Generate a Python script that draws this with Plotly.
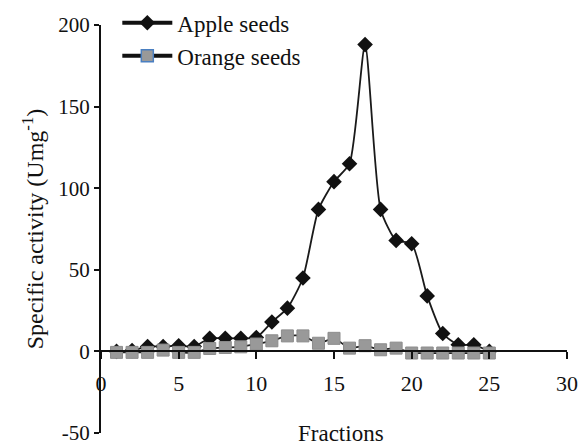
import plotly.graph_objects as go

fractions = list(range(1, 26))
apple = [0, 0.5, 3, 3, 3.5, 3, 8, 8, 8, 8.5, 18, 26.5, 45, 87, 104, 115, 188, 87, 68, 66, 34, 11, 4, 4, 0]
orange = [-0.6, -0.6, -0.6, 0.8, -0.6, -0.6, 1.8, 2.4, 2.8, 4.5, 6.5, 9.5, 9.5, 5, 8, 2, 3.5, 1, 2, -1, -1, -1, -1, -1, -1]

x_ticks = [0, 5, 10, 15, 20, 25, 30]
y_ticks = [-50, 0, 50, 100, 150, 200]

FONT = "Liberation Serif, Times New Roman, serif"

fig = go.Figure()
# plotted series (legend handled by separate legend-only entries)
fig.add_trace(go.Scatter(
    x=fractions, y=apple, name="Apple seeds", mode="lines+markers", showlegend=False,
    line=dict(color="#1a1a1a", width=1.8, shape="spline", smoothing=0.6),
    marker=dict(symbol="diamond", size=12, color="#111111"),
))
fig.add_trace(go.Scatter(
    x=fractions, y=orange, name="Orange seeds", mode="lines+markers", showlegend=False,
    line=dict(color="#222222", width=1.8, shape="spline", smoothing=0.6),
    marker=dict(symbol="square", size=12, color="#999999",
                line=dict(color="#8c8c8c", width=1)),
))
# legend entries
fig.add_trace(go.Scatter(
    x=[None], y=[None], name="Apple seeds", mode="lines+markers",
    line=dict(color="#111111", width=4),
    marker=dict(symbol="diamond", size=12, color="#111111"),
))
fig.add_trace(go.Scatter(
    x=[None], y=[None], name="Orange seeds", mode="lines+markers",
    line=dict(color="#111111", width=4),
    marker=dict(symbol="square", size=12, color="#999999",
                line=dict(color="#4a7fc1", width=1.5)),
))

fig.update_layout(
    width=587, height=447,
    margin=dict(l=101, r=20, t=25, b=14, autoexpand=False),
    paper_bgcolor="white", plot_bgcolor="white",
    font=dict(family=FONT, size=21, color="#111111"),
    showlegend=True,
    legend=dict(x=0.035, y=1.058, xanchor="left", yanchor="top",
                bgcolor="rgba(0,0,0,0)", font=dict(family=FONT, size=23),
                tracegroupgap=0, itemwidth=50),
    xaxis=dict(
        range=[0, 30], tickvals=x_ticks, ticktext=[str(v) for v in x_ticks],
        showgrid=False, zeroline=False, showline=True, linecolor="#111111", linewidth=2,
        ticks="outside", ticklen=7, tickwidth=1.5, tickcolor="#111111",
        anchor="free", position=0.2, ticklabelstandoff=5,
        tickfont=dict(family=FONT, size=22),
    ),
    yaxis=dict(
        range=[-50, 200], tickvals=y_ticks, ticktext=[str(v) for v in y_ticks],
        showgrid=False, zeroline=False, showline=True, linecolor="#111111", linewidth=2,
        ticks="outside", ticklen=5, tickwidth=1.5, tickcolor="#111111",
        ticklabeloverflow="allow",
        tickfont=dict(family=FONT, size=21),
        title=dict(text="Specific activity (Umg<sup>-1</sup>)", font=dict(family=FONT, size=24), standoff=8),
    ),
)

fig.add_annotation(text="Fractions", x=0.515, xref="paper", y=-50, yref="y",
                   yanchor="middle", showarrow=False, font=dict(family=FONT, size=23))

fig.write_html("out.html")
